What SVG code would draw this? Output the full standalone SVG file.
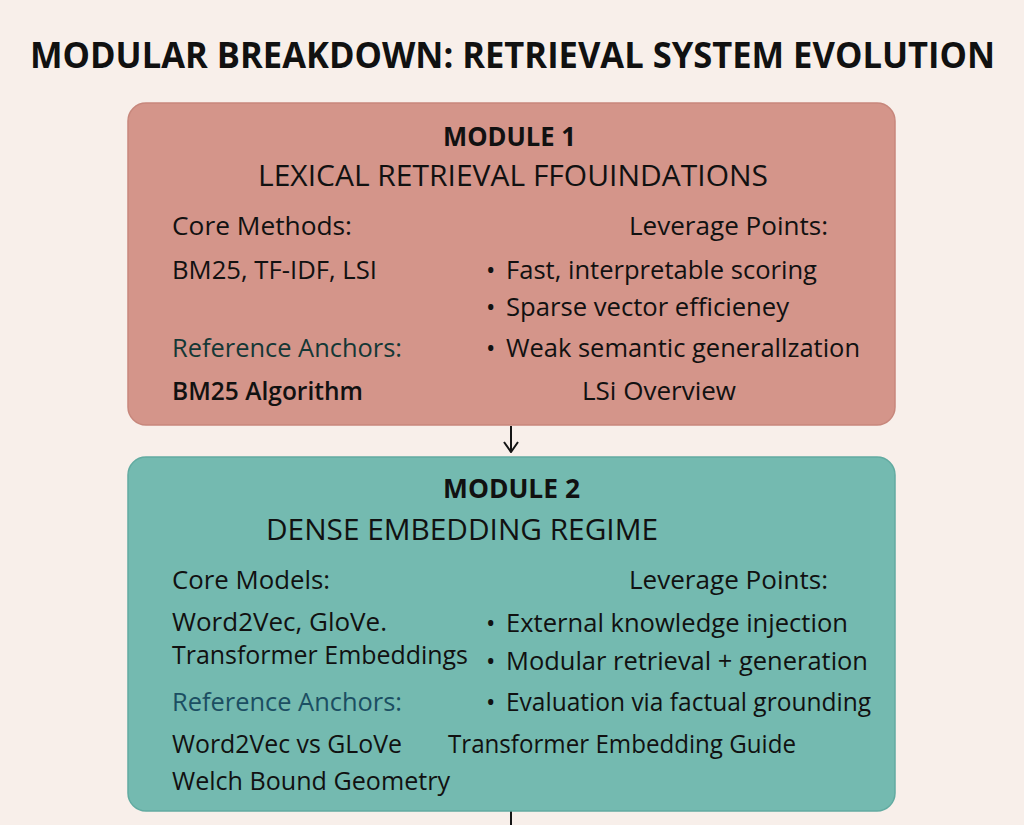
<svg xmlns="http://www.w3.org/2000/svg" width="1024" height="825" viewBox="0 0 1024 825">
<defs>
<style>
text{font-family:"Open Sans","Noto Sans","Liberation Sans",sans-serif;fill:#111}
.title{font-size:32px;font-weight:700}
.mod{font-size:26px;font-weight:700}
.sub{font-size:29px}
.body{font-size:25px}
.semi{font-weight:600}
.ref1{fill:#143836}
.ref2{fill:#1b4e62}
.conn{stroke:#151515;stroke-width:2;fill:none}
</style>
<marker id="arr" viewBox="0 0 12 16" refX="11" refY="8" markerWidth="12" markerHeight="16" markerUnits="userSpaceOnUse" orient="auto">
<path d="M1,1 L11,8 L1,15" fill="none" stroke="#151515" stroke-width="2"/>
</marker>
</defs>
<rect width="1024" height="825" fill="#f8efea"/>
<text class="title" x="30" y="0" transform="translate(0,68) scale(1,1.13)" textLength="965" lengthAdjust="spacingAndGlyphs">MODULAR BREAKDOWN: RETRIEVAL SYSTEM EVOLUTION</text>
<g id="connectors">
<line class="conn" x1="511" y1="426" x2="511" y2="452" marker-end="url(#arr)"/>
<line class="conn" x1="511" y1="811" x2="511" y2="825"/>
</g>
<g id="module1">
<rect x="128" y="103" width="767" height="322" rx="18" fill="#d4958a" stroke="#c7877c" stroke-width="1.5"/>
<text class="mod" x="443" y="146" textLength="133" lengthAdjust="spacingAndGlyphs">MODULE 1</text>
<text class="sub" x="258" y="186" textLength="510" lengthAdjust="spacingAndGlyphs">LEXICAL RETRIEVAL FFOUINDATIONS</text>
<text class="body" x="172" y="235" textLength="180" lengthAdjust="spacingAndGlyphs">Core Methods:</text>
<text class="body" x="629" y="235" textLength="199" lengthAdjust="spacingAndGlyphs">Leverage Points:</text>
<text class="body" x="172" y="279" textLength="205" lengthAdjust="spacingAndGlyphs">BM25, TF-IDF, LSI</text>
<text class="body" x="486" y="279">•</text>
<text class="body" x="506" y="279" textLength="311" lengthAdjust="spacingAndGlyphs">Fast, interpretable scoring</text>
<text class="body" x="486" y="316">•</text>
<text class="body" x="506" y="316" textLength="283" lengthAdjust="spacingAndGlyphs">Sparse vector efficieney</text>
<text class="body ref1" x="172" y="357" textLength="230" lengthAdjust="spacingAndGlyphs">Reference Anchors:</text>
<text class="body" x="486" y="357">•</text>
<text class="body" x="506" y="357" textLength="354" lengthAdjust="spacingAndGlyphs">Weak semantic generallzation</text>
<text class="body semi" x="172" y="400" textLength="191" lengthAdjust="spacingAndGlyphs">BM25 Algorithm</text>
<text class="body" x="582" y="400" textLength="154" lengthAdjust="spacingAndGlyphs">LSi Overview</text>
</g>
<g id="module2">
<rect x="128" y="457" width="767" height="354" rx="18" fill="#74bab0" stroke="#62aba1" stroke-width="1.5"/>
<text class="mod" x="443" y="498" textLength="137" lengthAdjust="spacingAndGlyphs">MODULE 2</text>
<text class="sub" x="266" y="540" textLength="392" lengthAdjust="spacingAndGlyphs">DENSE EMBEDDING REGIME</text>
<text class="body" x="172" y="589" textLength="158" lengthAdjust="spacingAndGlyphs">Core Models:</text>
<text class="body" x="629" y="589" textLength="199" lengthAdjust="spacingAndGlyphs">Leverage Points:</text>
<text class="body" x="172" y="631" textLength="215" lengthAdjust="spacingAndGlyphs">Word2Vec, GloVe.</text>
<text class="body" x="172" y="664" textLength="296" lengthAdjust="spacingAndGlyphs">Transformer Embeddings</text>
<text class="body" x="486" y="632">•</text>
<text class="body" x="506" y="632" textLength="342" lengthAdjust="spacingAndGlyphs">External knowledge injection</text>
<text class="body" x="486" y="670">•</text>
<text class="body" x="506" y="670" textLength="362" lengthAdjust="spacingAndGlyphs">Modular retrieval + generation</text>
<text class="body ref2" x="172" y="711" textLength="230" lengthAdjust="spacingAndGlyphs">Reference Anchors:</text>
<text class="body" x="486" y="711">•</text>
<text class="body" x="506" y="711" textLength="365" lengthAdjust="spacingAndGlyphs">Evaluation via factual grounding</text>
<text class="body" x="172" y="753" textLength="230" lengthAdjust="spacingAndGlyphs">Word2Vec vs GLoVe</text>
<text class="body" x="448" y="753" textLength="348" lengthAdjust="spacingAndGlyphs">Transformer Embedding Guide</text>
<text class="body" x="172" y="790" textLength="278" lengthAdjust="spacingAndGlyphs">Welch Bound Geometry</text>
</g>
</svg>
